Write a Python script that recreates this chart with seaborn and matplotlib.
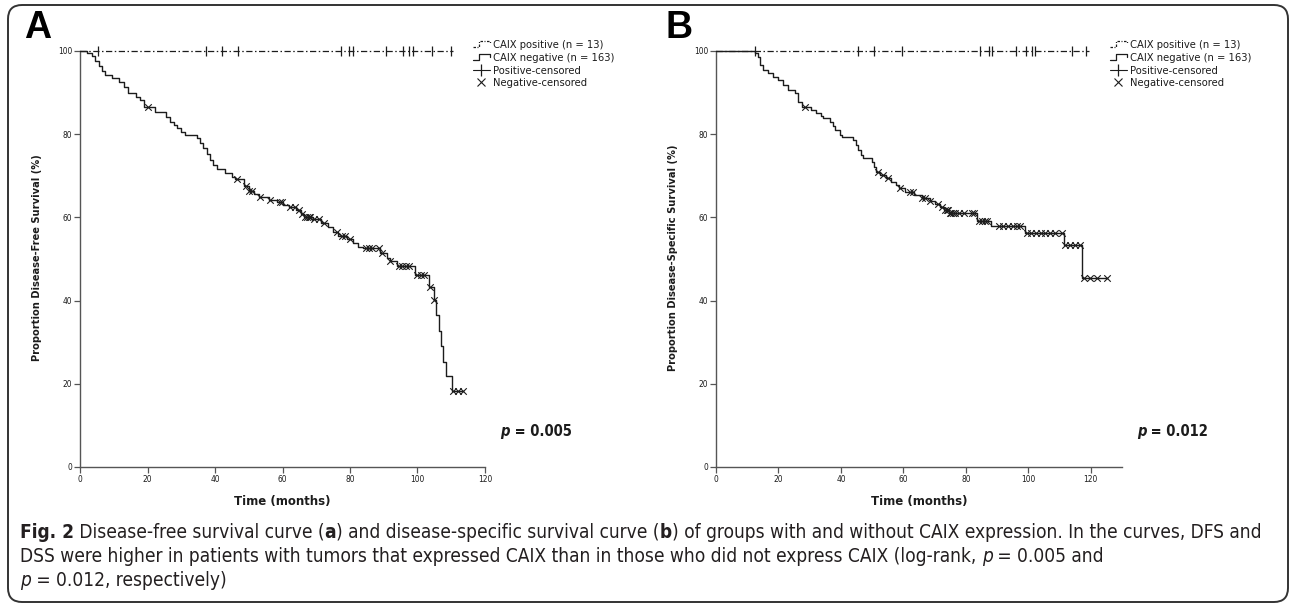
import numpy as np
import pandas as pd
import matplotlib
matplotlib.use("Agg")
import matplotlib.pyplot as plt
import seaborn as sns
from matplotlib.patches import FancyBboxPatch
from matplotlib.lines import Line2D
from matplotlib.legend_handler import HandlerBase
from matplotlib import font_manager as fm

# ---------------- data ----------------
A_event_t = [0, 2.0, 3.5, 4.5, 5.5, 6.5, 7.5, 9.5, 11.5, 13.0, 14.3, 16.5, 17.8, 19.0, 22.3, 25.5,
             26.7, 27.8, 28.7, 30.0, 31.2, 34.6, 35.5, 36.5, 37.5, 38.5, 39.5, 40.5, 43.0, 45.0,
             46.0, 48.5, 50.0, 51.5, 53.0, 56.0, 58.5, 60.0, 62.0, 64.0, 65.5, 66.5, 69.0, 71.5,
             73.5, 75.0, 76.5, 79.0, 81.0, 82.5, 84.0, 88.8, 91.0, 92.0, 94.0, 99.4, 103.4, 104.8,
             105.6, 106.3, 107.0, 107.6, 108.3, 110.3]
A_event_s = [100, 99.4, 98.8, 97.6, 96.4, 95.2, 94.2, 93.4, 92.6, 91.4, 89.8, 89.0, 88.2, 86.6, 85.4,
             84.2, 83.0, 82.2, 81.4, 80.6, 79.8, 79.0, 78.0, 76.8, 75.2, 73.8, 72.6, 71.6, 70.6, 69.8,
             69.2, 67.6, 66.4, 65.6, 64.8, 64.2, 63.6, 63.0, 62.4, 61.8, 60.8, 60.2, 59.6, 58.6, 57.6,
             56.6, 55.6, 54.8, 53.8, 53.0, 52.6, 51.4, 50.2, 49.6, 48.4, 46.2, 43.3, 40.1, 36.5, 32.8,
             29.0, 25.3, 21.9, 18.3]
A_end = 113.5
A_neg_censor = [20.2, 46.5, 49.2, 50.2, 51.0, 53.4, 56.4, 59.3, 59.8, 62.3, 63.8, 64.8, 65.8, 66.8,
                67.3, 67.8, 68.2, 69.2, 70.7, 72.2, 76.2, 77.6, 78.6, 80.1, 84.6, 85.5, 86.5, 88.5,
                89.5, 92.0, 94.5, 95.5, 96.5, 97.5, 100.0, 101.0, 102.0, 103.8, 105.0, 110.5, 112.0,
                113.5]
A_pos_censor = [5.2, 37.2, 42.1, 46.7, 77.2, 79.7, 80.9, 90.8, 95.7, 97.5, 98.8, 104.3, 109.8]

B_event_t = [0, 12.5, 13.6, 14.1, 15.2, 16.8, 18.4, 20.0, 21.6, 23.2, 25.3, 26.4, 27.5, 30.5, 32.0,
             33.5, 34.4, 36.5, 37.5, 38.1, 39.7, 40.5, 44.0, 44.8, 45.5, 46.3, 47.2, 49.9, 50.5, 51.2,
             52.5, 54.5, 56.0, 57.5, 58.5, 60.6, 63.5, 65.9, 68.6, 70.0, 71.8, 73.0, 74.5, 83.5, 88.0,
             99.0, 111.3, 117.2]
B_event_s = [100, 99.4, 98.6, 96.6, 95.4, 94.6, 93.8, 93.0, 91.8, 90.6, 89.8, 87.8, 86.6, 85.8, 85.0,
             84.4, 83.8, 83.0, 82.0, 81.0, 79.8, 79.4, 78.6, 77.4, 76.2, 75.0, 74.2, 73.4, 72.2, 71.0,
             70.2, 69.4, 68.6, 67.8, 67.0, 66.0, 65.4, 64.6, 64.0, 63.2, 62.6, 61.8, 61.0, 59.2, 57.9,
             56.2, 53.4, 45.4]
B_end = 125.2
B_neg_censor = [28.5, 52.0, 53.6, 55.2, 58.8, 62.2, 63.2, 65.9, 67.0, 68.6, 71.2, 72.3, 73.4, 73.9,
                74.4, 74.9, 75.4, 75.9, 76.5, 77.7, 79.3, 82.0, 82.6, 84.2, 85.3, 86.0, 86.8, 90.5,
                92.0, 93.5, 95.0, 96.5, 97.4, 99.6, 101.0, 102.5, 104.0, 105.5, 107.0, 108.5, 110.8,
                111.8, 113.5, 115.0, 116.5, 117.7, 119.9, 122.0, 125.2]
B_pos_censor = [12.5, 45.4, 50.7, 59.7, 84.6, 87.3, 88.4, 96.0, 99.3, 101.3, 102.0, 113.9, 118.6]

legend_labels = ["CAIX positive (n = 13)", "CAIX negative (n = 163)",
                 "Positive-censored", "Negative-censored"]
x_ticks_A = [0, 20, 40, 60, 80, 100, 120]
x_ticks_B = [0, 20, 40, 60, 80, 100, 120]
y_ticks = [0, 20, 40, 60, 80, 100]
ylabel_A = "Proportion Disease-Free Survival (%)"
ylabel_B = "Proportion Disease-Specific Survival (%)"
xlabel = "Time (months)"
p_A = "0.005"
p_B = "0.012"

caption_lines = [
    [("Fig. 2", "bold", "normal"), (" Disease-free survival curve (", "normal", "normal"),
     ("a", "bold", "normal"), (") and disease-specific survival curve (", "normal", "normal"),
     ("b", "bold", "normal"),
     (") of groups with and without CAIX expression. In the curves, DFS and", "normal", "normal")],
    [("DSS were higher in patients with tumors that expressed CAIX than in those who did not express CAIX (log-rank, ",
      "normal", "normal"), ("p", "normal", "italic"), (" = 0.005 and", "normal", "normal")],
    [("p", "normal", "italic"), (" = 0.012, respectively)", "normal", "normal")],
]

# ---------------- fonts ----------------
sns.set_theme(style="white")
names = {f.name for f in fm.fontManager.ttflist}
dejavu_cond = any(f.name == "DejaVu Sans" and f.stretch in ("condensed", "semi-condensed", 300, 400)
                  for f in fm.fontManager.ttflist)
if "Liberation Sans Narrow" in names:
    CFAM, CSTR = "Liberation Sans Narrow", "normal"
elif dejavu_cond:
    CFAM, CSTR = "DejaVu Sans", "condensed"
else:
    CFAM, CSTR = "Liberation Sans", "normal"
plt.rcParams["font.family"] = ["Liberation Sans", "DejaVu Sans"]

W, H = 1293, 607
fig = plt.figure(figsize=(W / 100, H / 100), dpi=100)
fig.patch.set_facecolor("white")
renderer = fig.canvas.get_renderer()
INK = "#1c1c1c"


def measure(s, size, **kw):
    t = fig.text(0, 0, s, fontsize=size, **kw)
    w = t.get_window_extent(renderer).width
    t.remove()
    return w


def fit(s, target, **kw):
    return 10.0 * target / measure(s, 10.0, **kw)


def runs_width(runs, size, fam, stretch):
    return sum(measure(s, size, fontweight=w, fontstyle=st, family=fam, fontstretch=stretch)
               for s, w, st in runs)


def draw_runs(x_px, y_px, runs, size, fam, stretch, color):
    x = x_px
    for s, w, st in runs:
        t = fig.text(x / W, 1 - y_px / H, s, fontsize=size, fontweight=w, fontstyle=st,
                     family=fam, fontstretch=stretch, color=color, va="baseline", ha="left")
        x += t.get_window_extent(renderer).width


class StepHandle:
    def __init__(self, dashes=None):
        self.dashes = dashes


class StepHandler(HandlerBase):
    """Legend key drawn as a small survival step, like the SPSS legend."""
    def create_artists(self, legend, orig, xd, yd, width, height, fontsize, trans):
        x0, y0 = -xd, -yd
        xs = [x0, x0 + 0.35 * width, x0 + 0.35 * width, x0 + width, x0 + width]
        ys = [y0 + 0.15 * height, y0 + 0.15 * height, y0 + 0.85 * height, y0 + 0.85 * height,
              y0 + 0.45 * height]
        ln = Line2D(xs, ys, color=INK, lw=0.9, transform=trans)
        if orig.dashes is not None:
            ln.set_dashes(orig.dashes)
        return [ln]


# background frame
bg = fig.add_axes([0, 0, 1, 1], zorder=-5)
bg.set_xlim(0, W)
bg.set_ylim(H, 0)
bg.axis("off")
bg.add_patch(FancyBboxPatch((8, 5), 1280, 597, boxstyle="round,pad=0,rounding_size=14",
                            fill=False, ec="#333333", lw=1.4))


def km_level(ts, ss, t):
    idx = np.searchsorted(np.asarray(ts), t, side="right") - 1
    return np.asarray(ss)[idx]


tick_size = fit("100", 14.5, family=CFAM, fontstretch=CSTR)
ylab_size = fit(ylabel_A, 206, family=CFAM, fontstretch=CSTR, fontweight="bold")
xlab_size = fit(xlabel, 96, family=CFAM, fontstretch=CSTR, fontweight="bold")
leg_size = fit(legend_labels[1], 122, family=CFAM, fontstretch=CSTR)
p_size = 10.0 * 72 / runs_width([("p", "bold", "italic"), (" = 0.005", "bold", "normal")], 10.0, CFAM, CSTR)


def panel(left_px, right_px, xmax, xticks, ev_t, ev_s, end_t, neg_c, pos_c, ylabel,
          letter, letter_px, pval):
    top_px, bot_px = 51, 467
    ax = fig.add_axes([left_px / W, 1 - bot_px / H, (right_px - left_px) / W, (bot_px - top_px) / H])
    ax.set_facecolor("none")
    t_full = list(ev_t) + [end_t]
    s_full = list(ev_s) + [ev_s[-1]]
    neg_df = pd.DataFrame({"time": t_full, "surv": s_full})
    sns.lineplot(data=neg_df, x="time", y="surv", drawstyle="steps-post", estimator=None,
                 sort=False, color=INK, lw=1.0, ax=ax, clip_on=False, zorder=3)
    pos_df = pd.DataFrame({"time": [0, max(pos_c) + 0.8], "surv": [100, 100]})
    sns.lineplot(data=pos_df, x="time", y="surv", estimator=None, sort=False, color=INK,
                 lw=0.9, ax=ax, clip_on=False, zorder=2)
    ax.lines[-1].set_dashes([5, 2, 1.2, 2])
    nc = pd.DataFrame({"time": neg_c, "surv": km_level(ev_t, ev_s, neg_c)})
    sns.scatterplot(data=nc, x="time", y="surv", marker="x", color=INK, s=22, linewidth=0.8,
                    ax=ax, clip_on=False, zorder=4, legend=False)
    pc = pd.DataFrame({"time": pos_c, "surv": [100] * len(pos_c)})
    sns.scatterplot(data=pc, x="time", y="surv", marker="|", color=INK, s=55, linewidth=0.9,
                    ax=ax, clip_on=False, zorder=4, legend=False)
    ax.set_xlim(0, xmax)
    ax.set_ylim(0, 100)
    ax.set_xticks(xticks)
    ax.set_yticks(y_ticks)
    for side in ("top", "right"):
        ax.spines[side].set_visible(False)
    for side in ("left", "bottom"):
        ax.spines[side].set_color("#555555")
        ax.spines[side].set_linewidth(1.0)
    ax.tick_params(axis="both", direction="out", length=4, width=0.9, color="#555555",
                   labelsize=tick_size, labelcolor=INK, pad=1.5, left=True, bottom=True)
    for lab in ax.get_xticklabels() + ax.get_yticklabels():
        lab.set_family(CFAM)
        lab.set_fontstretch(CSTR)
    ax.set_xlabel("")
    ax.set_ylabel("")
    cx = (left_px + right_px) / 2
    fig.text(cx / W, 1 - 501 / H, xlabel, ha="center", va="center", fontsize=xlab_size,
             fontweight="bold", family=CFAM, fontstretch=CSTR, color=INK)
    fig.text((left_px - 43) / W, 1 - 258 / H, ylabel, ha="center", va="center", rotation=90,
             fontsize=ylab_size, fontweight="bold", family=CFAM, fontstretch=CSTR, color=INK)
    fig.text(letter_px / W, 1 - 28 / H, letter, ha="left", va="center", fontsize=27,
             fontweight="bold", family="Liberation Sans", color="black")
    draw_runs(right_px + 15, 436, [("p", "bold", "italic"), (" = " + pval, "bold", "normal")],
              p_size, CFAM, CSTR, INK)
    handles = [
        StepHandle(dashes=[2, 1.2, 0.8, 1.2]),
        StepHandle(),
        Line2D([], [], color=INK, lw=0.8, marker="|", markersize=8, markeredgewidth=0.9),
        Line2D([], [], color=INK, lw=0, marker="x", markersize=6, markeredgewidth=0.8),
    ]
    leg = ax.legend(handles, legend_labels, loc="upper left",
                    handler_map={StepHandle: StepHandler()},
                    bbox_to_anchor=((right_px - 12) / W, 1 - 40 / H), bbox_transform=fig.transFigure,
                    frameon=False, handlelength=1.5, handletextpad=0.3, labelspacing=0.25,
                    borderpad=0, borderaxespad=0, prop={"family": CFAM, "stretch": CSTR,
                                                        "size": leg_size})
    for t in leg.get_texts():
        t.set_color(INK)
    return ax


panel(80, 485, 120, x_ticks_A, A_event_t, A_event_s, A_end, A_neg_censor, A_pos_censor,
      ylabel_A, "A", 24, p_A)
panel(716, 1122, 130, x_ticks_B, B_event_t, B_event_s, B_end, B_neg_censor, B_pos_censor,
      ylabel_B, "B", 666, p_B)

# caption
cap_size = 12.0 * 1243 / runs_width(caption_lines[0], 12.0, CFAM, CSTR)
for i, line in enumerate(caption_lines):
    draw_runs(20, 538 + i * 24, line, cap_size, CFAM, CSTR, "#231f20")

fig.savefig("out.png", dpi=100, facecolor="white")
